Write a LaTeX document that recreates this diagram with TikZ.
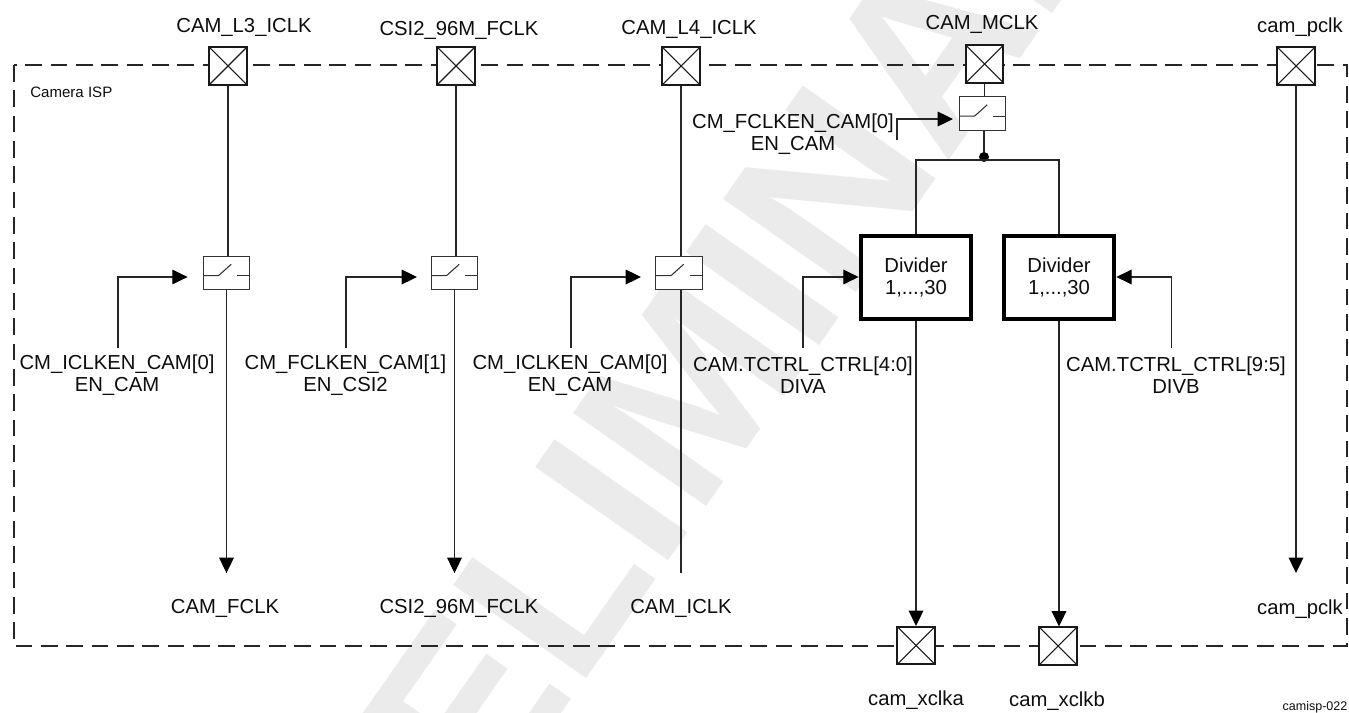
\documentclass[tikz,border=0pt]{standalone}
\usepackage{fontspec}
\setmainfont{Liberation Sans}
\usetikzlibrary{arrows.meta}

\begin{document}
\begin{tikzpicture}[x=0.75pt, y=-0.75pt, every node/.style={font=\fontsize{15.2pt}{16.8pt}\selectfont, align=center, text=black!95, inner sep=0pt},
	>={Triangle[length=11.5pt, width=11pt, color=black]}, sig/.style={draw=black!85, line width=.8pt},
	port/.style={draw=black!90, fill=white, line width=1.3pt, minimum size=28pt, path picture={
		\draw[line width=.8pt] (path picture bounding box.south west) -- (path picture bounding box.north east);
		\draw[line width=.8pt] (path picture bounding box.north west) -- (path picture bounding box.south east);}},
	switchbox/.style={draw=black!80, fill=white, line width=.8pt, minimum width=35pt, minimum height=25pt, path picture={
		\draw[line width=.8pt] (-17.5pt,-2pt) -- (-6pt,-2pt) -- (3.5pt,6.5pt);
		\draw[line width=.8pt] (8pt,-2pt) -- (17.5pt,-2pt);}},
	divider/.style={draw=black, fill=white, line width=3pt, minimum width=83pt, minimum height=62pt}]
	\useasboundingbox (0,0) rectangle (1349,713);
	\clip (0,0) rectangle (1349,713);
	\node[font=\fontsize{177pt}{177pt}\selectfont\bfseries, text=black!8, rotate=55, anchor=base west] (mark) at (577,692) {\llap{PRE}LIMINARY};
	\draw[black!85, line width=2.2pt, dash pattern=on 12.5pt off 6.5pt] (14,65) rectangle (1347,646);
	\node[font=\fontsize{11.3pt}{13pt}\selectfont, anchor=west] (isp) at (30,92) {Camera ISP};
	% clock paths with a switch
	\foreach \n/\x/\xs/\xo/\xe/\xl/\xt/\tip/\top/\ty/\ctl/\bot/\xb in {a/228/226.5/226.5/118/117/244/187.6/CAM\_L3\_ICLK/27/CM\_ICLKEN\_CAM[0]\\EN\_CAM/CAM\_FCLK/225,
		b/456/454.5/454.5/346/345.5/459/417/CSI2\_96M\_FCLK/30/CM\_FCLKEN\_CAM[1]\\EN\_CSI2/CSI2\_96M\_FCLK/459,
		c/681/679/681/571/570/689/641/CAM\_L4\_ICLK/29/CM\_ICLKEN\_CAM[0]\\EN\_CAM/CAM\_ICLK/681} {
		\node[port] (p\n) at (\x,66) {};
		\node (pt\n) at (\xt,\ty) {\top};
		\node[switchbox] (sw\n) at (\xs,273) {};
		\node (ctl\n) at (\xl,375) {\ctl};
		\node (out\n) at (\xb,608.5) {\bot};
		\coordinate (end\n) at (\xo,573);
		\coordinate (en\n) at (\tip,277);
		\draw[sig] (p\n) -- (p\n |- sw\n.north);
		\draw[sig] (\xo,290) -- (end\n);
		\draw[sig, ->] (\xe,348) |- (en\n);
	}
	\draw[sig, ->] (swa) -- (enda);
	\draw[sig, ->] (swb) -- (endb);
	% mclk and the two dividers
	\node[port] (pm) at (984.5,64) {};
	\node (ptm) at (982,24) {CAM\_MCLK};
	\node[switchbox] (swm) at (982.5,113.5) {};
	\node[circle, fill=black, minimum size=7.5pt] (dot) at (984,157) {};
	\node[divider] (diva) at (916,277.5) {Divider\\1,...,30};
	\node[divider] (divb) at (1059,277.5) {Divider\\1,...,30};
	\node[port] (xa) at (916,645.5) {};
	\node[port] (xb) at (1058,646) {};
	\node (lxa) at (916,700) {cam\_xclka};
	\node (lxb) at (1057,701) {cam\_xclkb};
	\node (ctlm) at (793,134) {CM\_FCLKEN\_CAM[0]\\EN\_CAM};
	\node (ctla) at (803,375) {CAM.TCTRL\_CTRL[4:0]\\DIVA};
	\node (ctlb) at (1176,375) {CAM.TCTRL\_CTRL[9:5]\\DIVB};
	\coordinate (enm) at (953,119);
	\draw[sig] (pm) -- (pm |- swm.north);
	\draw[sig] (dot |- swm.south) -- (dot);
	\draw[sig] (diva.north) -- (916,160) -- (1059,160) -- (divb.north);
	\draw[sig, ->] (897,140) |- (enm);
	\draw[sig, ->] (803,348) |- (diva.west |- 0,277);
	\draw[sig, ->] (1171.5,348) |- (divb.east |- 0,277);
	\draw[sig, ->] (diva) -- (xa);
	\draw[sig, ->] (divb.south) -- (divb.south |- xb.north);
	% pclk
	\node[port] (pp) at (1296,66) {};
	\node (ptp) at (1300,27) {cam\_pclk};
	\node (lp) at (1300,609) {cam\_pclk};
	\coordinate (endp) at (1296,573);
	\draw[sig, ->] (pp) -- (endp);
	\node[font=\fontsize{9.4pt}{11pt}\selectfont] (tag) at (1315,707) {camisp-022};
\end{tikzpicture}
\end{document}
